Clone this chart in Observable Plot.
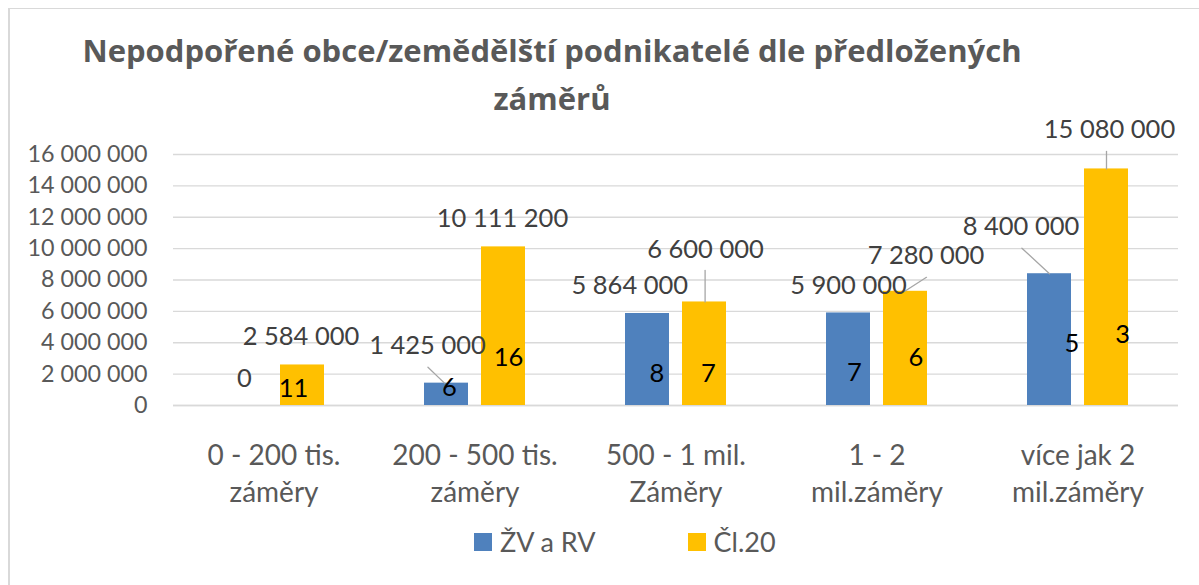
<!DOCTYPE html>
<html>
<head>
<meta charset="utf-8">
<script src="https://cdn.jsdelivr.net/npm/d3@7"></script>
<script src="https://cdn.jsdelivr.net/npm/@observablehq/plot@0.6"></script>
<style>
  body { margin: 0; background: #fff; }
  #wrap { position: relative; width: 1199px; height: 585px; overflow: hidden; font-family: Lato, "Noto Sans", sans-serif; background: #fff; }
  #frame { position: absolute; left: 8px; top: 8px; width: 1400px; height: 800px; border-left: 2px solid #d9d9d9; border-top: 1.5px solid #d9d9d9; box-sizing: border-box; }
  #chart { position: absolute; left: 0; top: 0; }
  #title { position: absolute; left: 52px; top: 26px; width: 1000px; text-align: center; font-family: "Open Sans", Lato, sans-serif; font-weight: 700; font-size: 31px; line-height: 48px; color: #595959; }
  #legend { position: absolute; left: 474px; top: 526px; display: flex; align-items: center; font-size: 27px; color: #595959; line-height: 32px; white-space: nowrap; }
  .sw { display: inline-block; width: 18px; height: 18px; margin-right: 8px; }
  .item { display: flex; align-items: center; }
</style>
</head>
<body>
<div id="wrap">
  <div id="frame"></div>
  <div id="chart"></div>
  <div id="title">Nepodpořené obce/zemědělští podnikatelé dle předložených<br>záměrů</div>
  <div id="legend"></div>
</div>
<script>
// ---- data ----
const categories = ["0 - 200 tis.\nzáměry", "200 - 500 tis.\nzáměry", "500 - 1 mil.\nZáměry", "1 - 2\nmil.záměry", "více jak 2\nmil.záměry"];
const series = ["ŽV a RV", "Čl.20"];
const amountZV = [0, 1425000, 5864000, 5900000, 8400000];
const amountCl20 = [2584000, 10111200, 6600000, 7280000, 15080000];
const countZV = [null, 6, 8, 7, 5];
const countCl20 = [11, 16, 7, 6, 3];
const yTicks = [0, 2000000, 4000000, 6000000, 8000000, 10000000, 12000000, 14000000, 16000000];

// ---- styling / layout (label nudges in px, leader lines) ----
const colors = ["#4F81BD", "#FFC000"];
const amountNudge = [
  [[-1, -27], [-19, -37.6], [-17.7, -27.5], [0, -27.4], [-28.5, -46.5]],
  [[-1.5, -28], [-1, -28], [1, -51.8], [20.5, -35], [3, -39.4]]
];
const countNudge = [
  [null, [3, -18], [9.4, -32], [5.8, -33], [22.5, -61.7]],
  [[-9, -17], [5, -47.5], [4, -32], [10.3, -47.5], [16.2, -70.5]]
];
// [seriesIndex, categoryIndex, length px, rotate deg, dx]
const leaders = [
  [0, 1, 23, -46, -2],
  [1, 2, 31.5, 0, 0.6],
  [1, 3, 25.8, 57.2, -0.7],
  [0, 4, 37.6, -47.2, 0],
  [1, 4, 17.5, 0, 0]
];

const fmt = d3.formatLocale({decimal: ",", thousands: " ", grouping: [3], currency: ["", ""]}).format(",d");

const rows = [];
categories.forEach((c, i) => {
  rows.push({cat: c, series: series[0], value: amountZV[i], count: countZV[i], si: 0, ci: i});
  rows.push({cat: c, series: series[1], value: amountCl20[i], count: countCl20[i], si: 1, ci: i});
});

const lineShape = { draw(context, l) { context.moveTo(0, 0); context.lineTo(0, -l); } };

const valueLabels = rows.map(d => Plot.text([d], {
  fx: "cat", x: "series", y: "value", text: d => fmt(d.value),
  dx: amountNudge[d.si][d.ci][0], dy: amountNudge[d.si][d.ci][1],
  fill: "#404040", fontSize: 25.5
}));
const countLabels = rows.filter(d => d.count != null).map(d => Plot.text([d], {
  fx: "cat", x: "series", y: 0, text: d => String(d.count),
  dx: countNudge[d.si][d.ci][0], dy: countNudge[d.si][d.ci][1],
  fill: "#000000", fontSize: 25.5
}));
const leaderMarks = leaders.map(([si, ci, len, rot, dx]) => {
  const d = rows.find(r => r.si === si && r.ci === ci);
  return Plot.vector([d], {
    fx: "cat", x: "series", y: "value", length: len, rotate: rot, anchor: "start",
    shape: lineShape, stroke: "#a6a6a6", strokeWidth: 1.3, dx
  });
});

const chart = Plot.plot({
  width: 1199, height: 585,
  marginLeft: 172, marginRight: 20, marginTop: 154, marginBottom: 180,
  style: {fontFamily: "Lato, 'Noto Sans', sans-serif", background: "transparent", overflow: "visible"},
  fx: {domain: categories, padding: 0, label: null},
  x: {domain: series, paddingInner: 0.22, paddingOuter: 0.855, axis: null},
  y: {domain: [0, 16000000]},
  color: {domain: series, range: colors},
  marks: [
    Plot.gridY(yTicks, {stroke: "#d9d9d9", strokeOpacity: 1, strokeWidth: 1.3}),
    Plot.ruleY([0], {stroke: "#d9d9d9", strokeWidth: 1.5}),
    Plot.axisY({ticks: yTicks, tickFormat: fmt, tickSize: 0, tickPadding: 26, fontSize: 23.3, fill: "#595959", label: null}),
    Plot.axisFx({anchor: "bottom", tickSize: 0, tickPadding: 33, fontSize: 28, lineHeight: 1.32, fill: "#595959", label: null}),
    Plot.barY(rows, {fx: "cat", x: "series", y: "value", fill: "series"}),
    ...leaderMarks,
    ...valueLabels,
    ...countLabels
  ]
});
document.getElementById("chart").appendChild(chart);

const legend = document.getElementById("legend");
series.forEach((s, i) => {
  const item = document.createElement("div");
  item.className = "item";
  if (i > 0) item.style.marginLeft = "92px";
  const sw = document.createElement("span");
  sw.className = "sw";
  sw.style.background = colors[i];
  const t = document.createElement("span");
  t.textContent = s;
  item.appendChild(sw);
  item.appendChild(t);
  legend.appendChild(item);
});
</script>
</body>
</html>
